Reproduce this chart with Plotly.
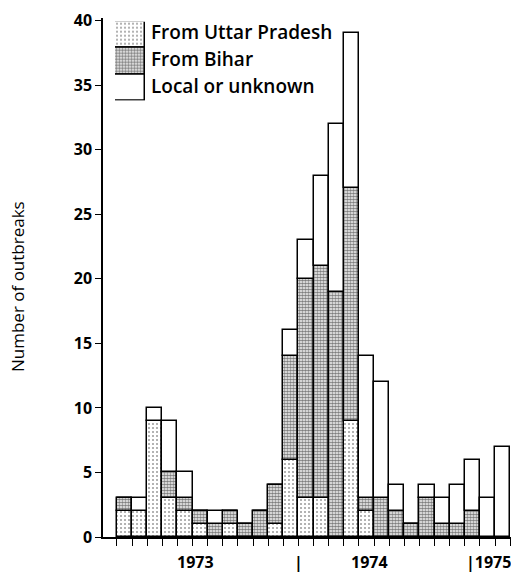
import plotly.graph_objects as go

# Monthly outbreaks, Jan 1973 .. Feb 1975 (26 months)
months = list(range(26))
from_up = [2, 2, 9, 3, 2, 1, 0, 1, 0, 0, 1, 6, 3, 3, 0, 9, 2, 0, 0, 0, 0, 0, 0, 0, 0, 0]
from_bihar = [1, 0, 0, 2, 1, 1, 1, 1, 1, 2, 3, 8, 17, 18, 19, 18, 1, 3, 2, 1, 3, 1, 1, 2, 0, 0]
local = [0, 1, 1, 4, 2, 0, 1, 0, 0, 0, 0, 2, 3, 7, 13, 12, 11, 9, 2, 0, 1, 2, 3, 4, 3, 7]

series_names = ["From Uttar Pradesh", "From Bihar", "Local or unknown"]
y_ticks = [0, 5, 10, 15, 20, 25, 30, 35, 40]
year_labels = ["1973", "|", "1974", "|1975"]
year_label_pos = [4.72, 11.5, 16.2, 24.05]

FONT = "Open Sans"
LW = 1.5

pat_up = dict(shape=".", fgcolor="#333", bgcolor="white", size=4, solidity=0.2)
pat_bihar = dict(shape=".", fgcolor="black", bgcolor="white", size=3, solidity=0.65)
pat_local = dict(shape="", bgcolor="white")
patterns = [pat_up, pat_bihar, pat_local]

fig = go.Figure()
for vals, pat, name in zip([from_up, from_bihar, local], patterns, series_names):
    fig.add_trace(go.Bar(
        x=months, y=vals, name=name, width=1, showlegend=False,
        marker=dict(color="white", pattern=pat, line=dict(color="black", width=LW)),
    ))
fig.data[1].base = from_up
fig.data[2].base = [a + b for a, b in zip(from_up, from_bihar)]

# legend swatches on a small auxiliary axis (one box per series)
for k, pat in enumerate(patterns):
    fig.add_trace(go.Bar(
        x=[1], y=[2 - k], orientation="h", width=1, base=0,
        xaxis="x2", yaxis="y2", showlegend=False, cliponaxis=False, hoverinfo="skip",
        marker=dict(color="white", pattern=pat, line=dict(color="black", width=LW)),
    ))

W, H = 511, 573
L, R, T, B = 103, 0, 18, 36
pw, ph = W - L - R, H - T - B

def px_x(p):
    return (p - L) / pw

def px_y(p):
    return (H - B - p) / ph

fig.update_layout(
    width=W, height=H,
    margin=dict(l=L, r=R, t=T, b=B),
    paper_bgcolor="white", plot_bgcolor="white",
    barmode="overlay", bargap=0,
    font=dict(family=FONT, color="black"),
    xaxis=dict(range=[-1.424, 25.55], showgrid=False, zeroline=False,
               showline=True, linecolor="black", linewidth=LW,
               tickmode="array", tickvals=[i - 0.5 for i in range(27)],
               ticks="outside", ticklen=7, tickwidth=1.2, tickcolor="black",
               showticklabels=False),
    yaxis=dict(range=[0, 40.2], showgrid=False, zeroline=False,
               showline=True, linecolor="black", linewidth=LW,
               tickvals=y_ticks, ticks="outside", ticklen=6, tickwidth=1.2,
               tickcolor="black",
               tickfont=dict(family=FONT, size=16, color="black", weight="bold")),
    xaxis2=dict(domain=[px_x(115), px_x(145)], range=[0, 1], anchor="y2",
                visible=False, fixedrange=True),
    yaxis2=dict(domain=[px_y(100.5), px_y(21.7)], range=[-0.5, 2.5], anchor="x2",
                visible=False, fixedrange=True),
)

for txt, yc in zip(series_names, [32, 59, 86]):
    fig.add_annotation(text=txt, xref="paper", yref="paper", x=px_x(149), y=px_y(yc),
                       xanchor="left", yanchor="middle", showarrow=False,
                       font=dict(family=FONT, size=19, color="black", weight=600))

for txt, xp in zip(year_labels, year_label_pos):
    fig.add_annotation(text=txt, xref="x", yref="paper", x=xp, y=px_y(562),
                       xanchor="center", yanchor="middle", showarrow=False,
                       font=dict(family=FONT, size=16, color="black", weight="bold"))

fig.add_annotation(text="Number of outbreaks", textangle=-90,
                   xref="paper", yref="paper", x=px_x(17), y=px_y(287),
                   xanchor="center", yanchor="middle", showarrow=False,
                   font=dict(family=FONT, size=17, color="black"))

fig.write_html("out.html")
